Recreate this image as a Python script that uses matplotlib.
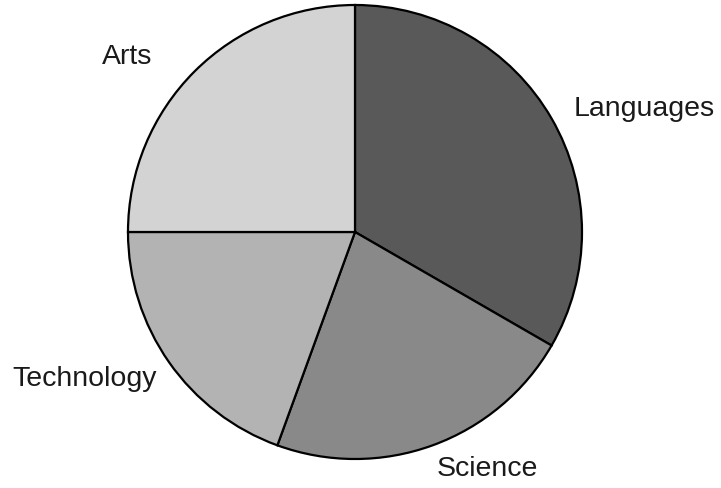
import matplotlib
matplotlib.use("Agg")
import matplotlib.pyplot as plt

categories = ["Languages", "Science", "Technology", "Arts"]
values = [12, 8, 7, 9]
colors = ["#595959", "#898989", "#b3b3b3", "#d3d3d3"]
# label anchor positions (data units, radius = 1)
label_pos = [(0.965, 0.548), (0.361, -1.04), (-0.872, -0.645), (-0.894, 0.775)]

plt.rcParams['font.family'] = ['Liberation Sans', 'DejaVu Sans']

W, H = 721, 489
fig = plt.figure(figsize=(W / 100, H / 100), dpi=100)
cx, cy, r = 355, 489 - 233, 227
ax = fig.add_axes([(cx - r) / W, (cy - r) / H, 2 * r / W, 2 * r / H])

wedges, texts = ax.pie(values, labels=categories, colors=colors, startangle=90,
                       counterclock=False, labeldistance=1.1,
                       wedgeprops=dict(edgecolor="black", linewidth=1.6),
                       textprops=dict(fontsize=20.5, color="#1a1a1a"))
for t, p in zip(texts, label_pos):
    t.set_position(p)
ax.set_xlim(-1, 1)
ax.set_ylim(-1, 1)
ax.set_aspect("auto")
ax.axis("off")

fig.savefig("out.png", dpi=100)
